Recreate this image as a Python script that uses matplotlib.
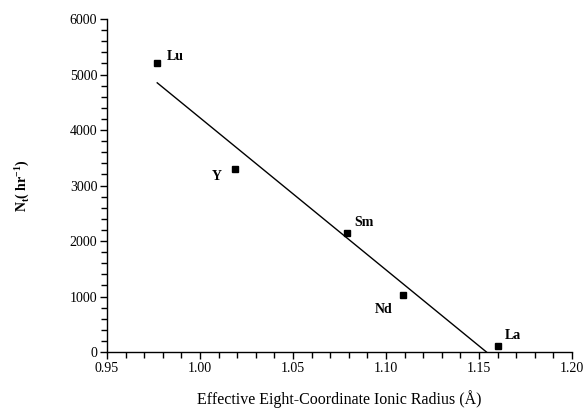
import matplotlib
matplotlib.use("Agg")
import matplotlib.pyplot as plt
from matplotlib.ticker import MultipleLocator

plt.rcParams["font.family"] = ["Liberation Serif", "DejaVu Serif"]
plt.rcParams["mathtext.fontset"] = "custom"
plt.rcParams["mathtext.rm"] = "Liberation Serif"
plt.rcParams["mathtext.bf"] = "Liberation Serif:bold"

# measured points
elements = ["Lu", "Y", "Sm", "Nd", "La"]
radius = [0.977, 1.019, 1.079, 1.109, 1.160]
turnover = [5210, 3300, 2150, 1030, 110]

# fitted line end points
fit_x = [0.977, 1.154]
fit_y = [4850, 0]

label_offsets = {
    "Lu": (7, 0, "left", "bottom"),
    "Y": (-10, -1, "right", "top"),
    "Sm": (5, 3, "left", "bottom"),
    "Nd": (-7, -6, "right", "top"),
    "La": (5, 3, "left", "bottom"),
}

fig = plt.figure(figsize=(5.83, 4.12), dpi=100)
ax = fig.add_axes([107 / 583, 60 / 412, 465 / 583, 333 / 412])

ax.plot(fit_x, fit_y, color="black", linewidth=1.0)
ax.plot(radius, turnover, linestyle="none", marker="s", markersize=5,
        color="black", clip_on=False, zorder=3)

for el, x, y in zip(elements, radius, turnover):
    dx, dy, ha, va = label_offsets[el]
    ax.annotate(el, (x, y), xytext=(dx, dy), textcoords="offset points",
                ha=ha, va=va, fontsize=10, fontweight="bold")

ax.set_xlim(0.95, 1.20)
ax.set_ylim(0, 6000)
ax.xaxis.set_major_locator(MultipleLocator(0.05))
ax.xaxis.set_minor_locator(MultipleLocator(0.01))
ax.yaxis.set_major_locator(MultipleLocator(1000))
ax.yaxis.set_minor_locator(MultipleLocator(200))
ax.xaxis.set_major_formatter(plt.FormatStrFormatter("%.2f"))

for side in ["top", "right"]:
    ax.spines[side].set_visible(False)
ax.spines["left"].set_linewidth(1.0)
ax.spines["bottom"].set_linewidth(1.0)
ax.tick_params(which="major", direction="out", length=5, width=1.0,
               labelsize=10, pad=2)
ax.tick_params(which="minor", direction="out", length=4, width=1.0)

ax.set_xlabel("Effective Eight-Coordinate Ionic Radius (Å)", fontsize=11.5,
              labelpad=11)
ax.set_ylabel(r"N$_\mathbf{t}$( hr$^{\mathbf{-1}}$)", fontsize=10,
              fontweight="bold", labelpad=28)

fig.savefig("out.png", dpi=100)
